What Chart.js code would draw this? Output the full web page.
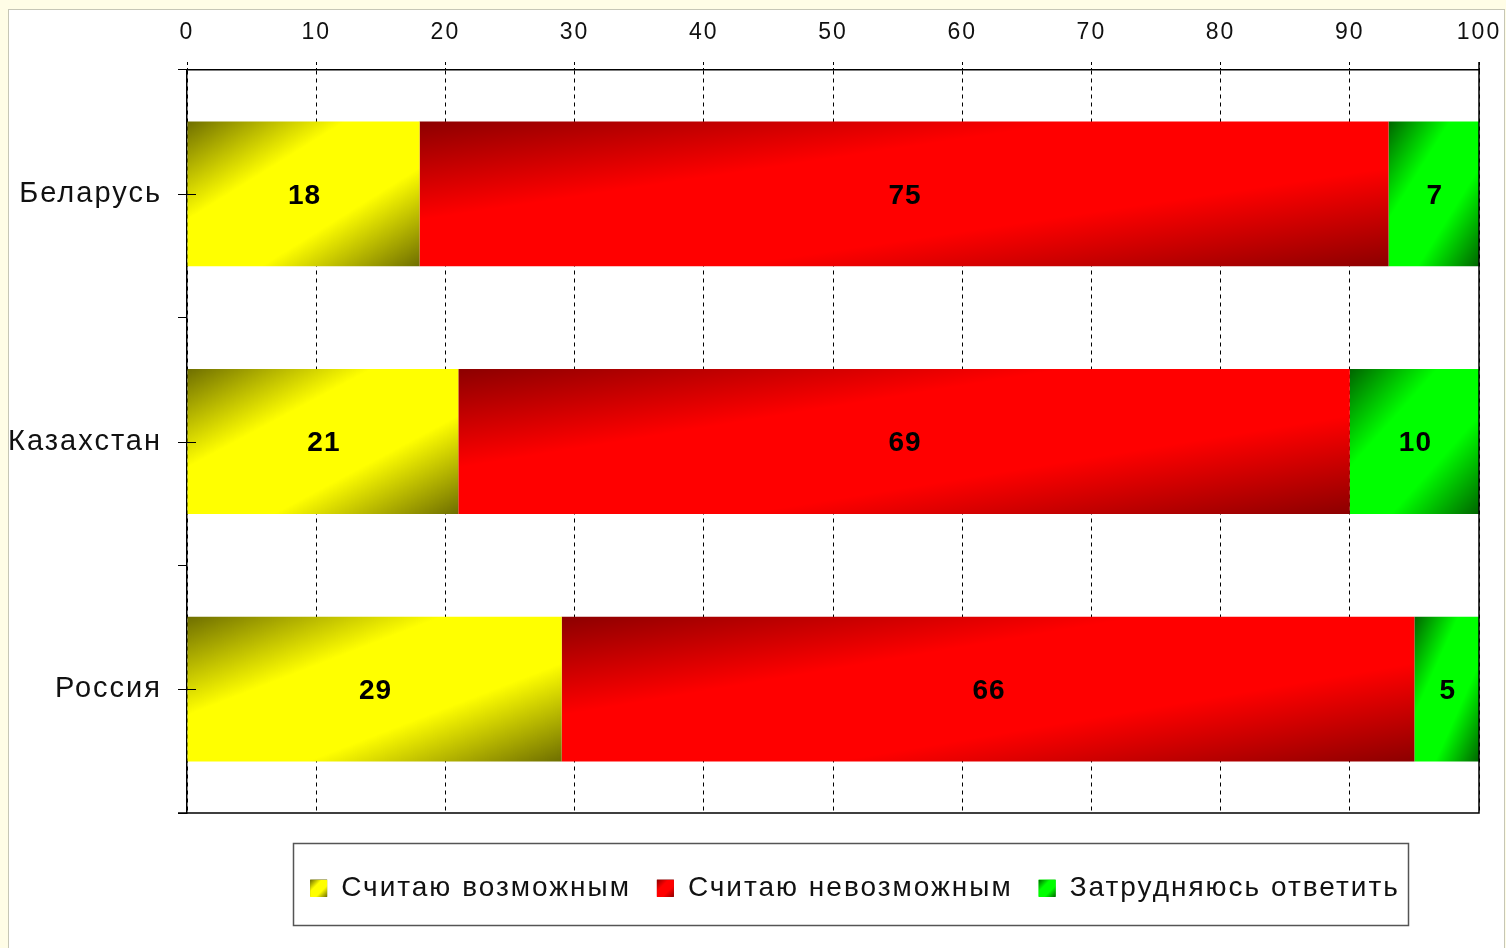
<!DOCTYPE html>
<html>
<head>
<meta charset="utf-8">
<script src="https://cdn.jsdelivr.net/npm/chart.js@4/dist/chart.umd.min.js"></script>
<style>
  html, body { margin: 0; padding: 0; background: #fffde6; overflow: hidden; }
  #panel {
    position: absolute; left: 8px; top: 9px; width: 1497px; height: 960px;
    background: #fff; border: 1px solid #c6c6b6; box-sizing: border-box;
  }
  #chart { position: absolute; left: 0; top: 0; }
</style>
</head>
<body>
<div id="panel"><canvas id="chart" width="1494" height="938"></canvas></div>
<script>
const countries = ['Беларусь', 'Казахстан', 'Россия'];
const seriesNames = ['Считаю возможным', 'Считаю невозможным', 'Затрудняюсь ответить'];
const possible = [18, 21, 29];
const impossible = [75, 69, 66];
const undecided = [7, 10, 5];
const xTicks = [0, 10, 20, 30, 40, 50, 60, 70, 80, 90, 100];

const FONT = "'Liberation Sans', Arial, sans-serif";
const BAR_PCT = 0.585;

// dark corner -> bright band along the anti-diagonal -> dark corner
function diagGradient(ctx2d, x0, y0, w, h, dark, bright) {
  const k = 2 * w * h / (w * w + h * h);
  const g = ctx2d.createLinearGradient(x0, y0, x0 + h * k, y0 + w * k);
  g.addColorStop(0, dark);
  g.addColorStop(0.34, bright);
  g.addColorStop(0.66, bright);
  g.addColorStop(1, dark);
  return g;
}

function barFill(dark, bright) {
  return function (c) {
    const chart = c.chart;
    if (c.type !== 'data' || !chart.chartArea) return bright;
    const xs = chart.scales.x, ys = chart.scales.y;
    let start = 0;
    for (let d = 0; d < c.datasetIndex; d++) start += chart.data.datasets[d].data[c.dataIndex];
    const end = start + chart.data.datasets[c.datasetIndex].data[c.dataIndex];
    const x0 = xs.getPixelForValue(start), x1 = xs.getPixelForValue(end);
    const band = Math.abs(ys.getPixelForValue(1) - ys.getPixelForValue(0));
    const h = band * BAR_PCT;
    const y0 = ys.getPixelForValue(c.dataIndex) - h / 2;
    return diagGradient(chart.ctx, x0, y0, x1 - x0, h, dark, bright);
  };
}

const palette = [
  { dark: '#6e6e00', bright: '#ffff00' },
  { dark: '#8c0000', bright: '#ff0000' },
  { dark: '#006400', bright: '#00ff00' }
];

// the text in this chart is slightly tracked out
const spacing = {
  id: 'spacing',
  beforeLayout(chart) { chart.ctx.letterSpacing = '2px'; },
  beforeDraw(chart) { chart.ctx.letterSpacing = '2px'; },
  afterLayout(chart) {
    // legend block sits a little right of the canvas centre
    if (chart.legend) chart.legend.left = 222;
  }
};

// frame on the right/bottom, centre ticks, value labels, legend box
const decor = {
  id: 'decor',
  afterDatasetsDraw(chart) {
    const ctx = chart.ctx;
    const a = chart.chartArea;
    const ys = chart.scales.y;
    ctx.save();
    ctx.strokeStyle = '#000';
    ctx.lineWidth = 1.5;
    ctx.beginPath();
    ctx.moveTo(a.right, a.top - 8);
    ctx.lineTo(a.right, a.bottom);
    ctx.lineTo(a.left - 9, a.bottom);
    ctx.stroke();
    ctx.lineWidth = 1;
    countries.forEach((_, i) => {
      const y = Math.round(ys.getPixelForValue(i)) + 0.5;
      ctx.beginPath();
      ctx.moveTo(a.left - 9, y);
      ctx.lineTo(a.left + 9, y);
      ctx.stroke();
    });
    ctx.fillStyle = '#000';
    ctx.letterSpacing = '1px';
    ctx.font = 'bold 28px ' + FONT;
    ctx.textAlign = 'center';
    ctx.textBaseline = 'middle';
    chart.data.datasets.forEach((ds, d) => {
      chart.getDatasetMeta(d).data.forEach((el, i) => {
        const p = el.getProps(['x', 'y', 'base'], true);
        ctx.fillText(String(ds.data[i]), (p.x + p.base) / 2 + 1, p.y + 2);
      });
    });
    ctx.restore();
  },
  afterDraw(chart) {
    const lg = chart.legend;
    if (!lg || !lg.legendHitBoxes.length) return;
    const ctx = chart.ctx;
    const boxes = lg.legendHitBoxes;
    const bw = lg.options.labels.boxWidth;
    ctx.save();
    boxes.forEach((b, i) => {
      const top = Math.round(b.top + (b.height - bw) / 2);
      ctx.fillStyle = diagGradient(ctx, b.left, top, bw, bw, palette[i].dark, palette[i].bright);
      ctx.fillRect(b.left, top, bw, bw);
    });
    const left = Math.min(...boxes.map(b => b.left)) - 17;
    const right = Math.max(...boxes.map(b => b.left + b.width)) + 8;
    const midY = boxes[0].top + boxes[0].height / 2;
    ctx.strokeStyle = '#555';
    ctx.lineWidth = 1.5;
    ctx.strokeRect(Math.round(left) + 0.5, Math.round(midY - 45) + 0.5, Math.round(right - left), 82);
    ctx.restore();
  }
};

new Chart(document.getElementById('chart'), {
  type: 'bar',
  data: {
    labels: countries,
    datasets: [possible, impossible, undecided].map((vals, d) => ({
      label: seriesNames[d],
      data: vals,
      backgroundColor: barFill(palette[d].dark, palette[d].bright),
      borderWidth: 0,
      barPercentage: BAR_PCT,
      categoryPercentage: 1
    }))
  },
  plugins: [spacing, decor],
  options: {
    indexAxis: 'y',
    responsive: false,
    devicePixelRatio: 1,
    animation: false,
    layout: { padding: { left: 0, right: 24, top: 0, bottom: 36 } },
    scales: {
      x: {
        position: 'top',
        stacked: true,
        min: 0,
        max: 100,
        afterBuildTicks: s => { s.ticks = xTicks.map(v => ({ value: v })); },
        afterFit: s => { s.height = 60; s.paddingLeft = 0; s.paddingRight = 0; },
        ticks: {
          color: '#111',
          font: { family: FONT, size: 23 },
          padding: 16,
          maxRotation: 0,
          autoSkip: false
        },
        grid: {
          color: '#000',
          lineWidth: 1,
          tickLength: 8,
          tickBorderDash: [3, 3],
          tickColor: '#000'
        },
        border: { display: true, color: '#000', width: 1.5, dash: [4, 4] }
      },
      y: {
        stacked: true,
        afterFit: s => { s.width = 178; },
        ticks: {
          color: '#111',
          font: { family: FONT, size: 29 },
          padding: 16
        },
        grid: {
          offset: true,
          drawOnChartArea: false,
          tickLength: 9,
          color: '#000',
          lineWidth: 1
        },
        border: { display: true, color: '#000', width: 1.5 }
      }
    },
    plugins: {
      legend: {
        position: 'bottom',
        title: { display: true, text: '', font: { size: 10 }, padding: { top: 0, bottom: 23 } },
        labels: {
          color: '#111',
          font: { family: FONT, size: 28 },
          boxWidth: 17,
          boxHeight: 17,
          padding: 26
        }
      },
      tooltip: { enabled: false }
    }
  }
});
</script>
</body>
</html>
